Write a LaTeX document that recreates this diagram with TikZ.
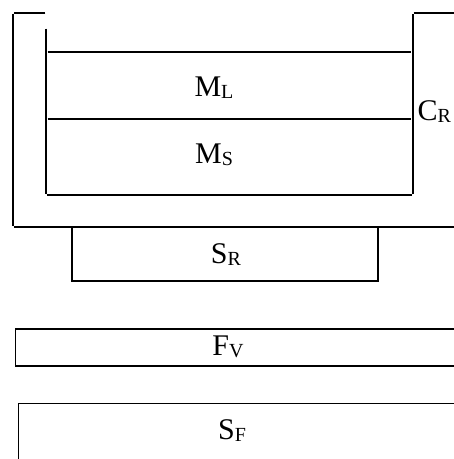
\documentclass[tikz,border=0pt]{standalone}
\usepackage{fontspec}
\setmainfont{Liberation Serif}
\usepackage{tikz}
\newcommand{\labelfont}{\fontsize{30}{34}\selectfont}
\newcommand{\lowsub}[1]{\raisebox{-2pt}{\fontsize{20}{20}\selectfont #1}}
\newcommand{\drawbox}{\node[draw,rectangle,inner sep=0]}
\newcommand{\drawlabel}{\node[inner sep=0,font=\labelfont]}
\newcommand{\drawdummy}{\node[minimum size=0,inner sep=0]}

\begin{document}
\begin{tikzpicture}[x=1pt,y=-1pt,line width=1.3pt]
\useasboundingbox (0,0) rectangle (454,459);
\clip (0,0) rectangle (454,459);
%crucible with the two melt layers
\drawdummy (outTL) at (13,13) {};
\drawdummy (outTR) at (46,13) {};
\drawdummy (outBL) at (13,227) {};
\drawdummy (outBR) at (470,227) {};
\drawdummy (inTL) at (46,28) {};
\drawdummy (inBL) at (46,195) {};
\drawdummy (inBR) at (413,195) {};
\drawdummy (inTR) at (413,13) {};
\drawdummy (rimR) at (470,13) {};

\draw (outTR) -- (outTL) -- (outBL) -- (outBR);
\draw (inTL) -- (inBL) -- (inBR) -- (inTR) -- (rimR);

\drawdummy (liqL) at (47,52) {};
\drawdummy (liqR) at (412,52) {};
\drawdummy (solL) at (47,119) {};
\drawdummy (solR) at (412,119) {};
\draw (liqL) -- (liqR);
\draw (solL) -- (solR);

\drawlabel (mL) at (214,88) {M\lowsub{L}};
\drawlabel (mS) at (214,155) {M\lowsub{S}};
\drawlabel[anchor=west] (cR) at (417,112) {C\lowsub{R}};

%support, felt and base
\drawbox[minimum width=306pt,minimum height=54pt] (sR) at (225,254) {};
\drawlabel (sRtext) at (226,255) {S\lowsub{R}};
\drawbox[minimum width=470pt,minimum height=37pt,anchor=west] (fV) at (15,347.5) {};
\drawlabel (fVtext) at (228,347) {F\lowsub{V}};
\drawbox[minimum width=470pt,minimum height=80pt,anchor=north west] (sF) at (18,403) {};
\drawlabel (sFtext) at (232,431) {S\lowsub{F}};

\end{tikzpicture}
\end{document}
